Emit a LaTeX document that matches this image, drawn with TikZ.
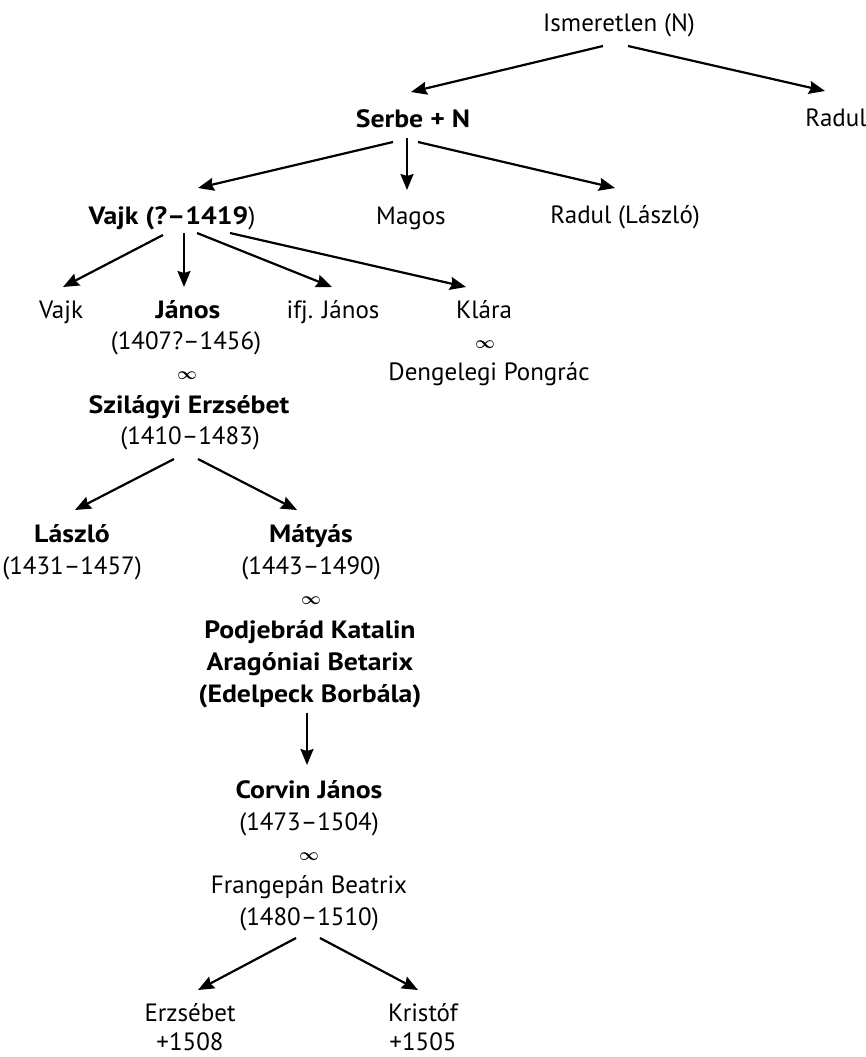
\documentclass[tikz,border=0pt]{standalone}
\usepackage{fontspec}
\setmainfont{PT Sans}[BoldFeatures={FakeStretch=1.11}]
\usetikzlibrary{arrows.meta,calc}
\tikzset{
  txt/.style={anchor=base,inner sep=0pt,font=\fontsize{25}{30}\selectfont},
  bt/.style={txt,font=\fontsize{25}{30}\selectfont\bfseries},
  arr/.style={line width=2.2pt,-{Stealth[length=16pt,width=13pt,inset=2pt]}}
}
\newcommand{\marr}{{\fontsize{19}{19}\selectfont\boldmath$\infty$}}
\begin{document}
\begin{tikzpicture}[x=1pt,y=-1pt]
\useasboundingbox (0,0) rectangle (866,1057);
% level 0-1
\node[txt] (ism) at (619,32) {Ismeretlen (N)};
\node[bt] (serbe) at (413,127) {Serbe + N};
\node[txt] (radul) at (836,126) {Radul};
% level 2
\node[txt] (vajk) at (172,224) {\textbf{Vajk (?–1419}{)}};
\node[txt] (magos) at (411,224) {Magos};
\node[txt] (radull) at (625,223) {Radul (László)};
% level 3
\node[txt] (vajkb) at (61,318) {Vajk};
\node[bt] (janos) at (188,318) {János};
\node[txt] (janosd) at (186,349) {(1407?–1456)};
\node[txt] (janosm) at (187,379) {\marr};
\node[bt] (szil) at (189,413) {Szilágyi Erzsébet};
\node[txt] (szild) at (190,444) {(1410–1483)};
\node[txt] (ifj) at (333,318) {ifj. János};
\node[txt] (klara) at (484,318) {Klára};
\node[txt] (klaram) at (485,348) {\marr};
\node[txt] (deng) at (489,380) {Dengelegi Pongrác};
% level 4
\node[bt] (laszlo) at (72,542) {László};
\node[txt] (laszlod) at (72,574) {(1431–1457)};
\node[bt] (matyas) at (311,542) {Mátyás};
\node[txt] (matyasd) at (311,574) {(1443–1490)};
\node[txt] (matyasm) at (311,604) {\marr};
\node[bt] (podj) at (310,638) {Podjebrád Katalin};
\node[bt] (arag) at (310,670) {Aragóniai Betarix};
\node[bt] (edel) at (310,702) {(Edelpeck Borbála)};
% level 5
\node[bt] (corvin) at (309,798) {Corvin János};
\node[txt] (corvind) at (309,830) {(1473–1504)};
\node[txt] (corvinm) at (309,860) {\marr};
\node[txt] (frang) at (309,893) {Frangepán Beatrix};
\node[txt] (frangd) at (309,925) {(1480–1510)};
% level 6
\node[txt] (erzs) at (190,1021) {Erzsébet};
\node[txt] (erzsd) at (190,1050) {+1508};
\node[txt] (krist) at (423,1021) {Kristóf};
\node[txt] (kristd) at (423,1050) {+1505};
% connectors
\draw[arr] ($(ism.base)+(-16,14)$) -- ($(serbe.base)+(-2,-35)$);
\draw[arr] ($(ism.base)+(9,14)$) -- ($(radul.base)+(-11,-35)$);
\draw[arr] ($(serbe.base)+(-20,15)$) -- ($(vajk.base)+(26,-36)$);
\draw[arr] ($(serbe.base)+(-6,11)$) -- ($(magos.base)+(-4,-34)$);
\draw[arr] ($(serbe.base)+(5,15)$) -- ($(radull.base)+(-10,-35)$);
\draw[arr] ($(vajk.base)+(-9,11)$) -- ($(vajkb.base)+(2,-31)$);
\draw[arr] ($(vajk.base)+(12,9)$) -- ($(janos.base)+(-4,-31)$);
\draw[arr] ($(vajk.base)+(25,9)$) -- ($(ifj.base)+(-1,-31)$);
\draw[arr] ($(vajk.base)+(58,9)$) -- ($(klara.base)+(-18,-31)$);
\draw[arr] ($(szild.base)+(-16,15)$) -- ($(laszlo.base)+(3,-32)$);
\draw[arr] ($(szild.base)+(8,15)$) -- ($(matyas.base)+(-14,-32)$);
\draw[arr] ($(edel.base)+(-3,11)$) -- ($(corvin.base)+(-2,-33)$);
\draw[arr] ($(frangd.base)+(-13,13)$) -- ($(erzs.base)+(8,-31)$);
\draw[arr] ($(frangd.base)+(11,13)$) -- ($(krist.base)+(-5,-31)$);
\end{tikzpicture}
\end{document}
